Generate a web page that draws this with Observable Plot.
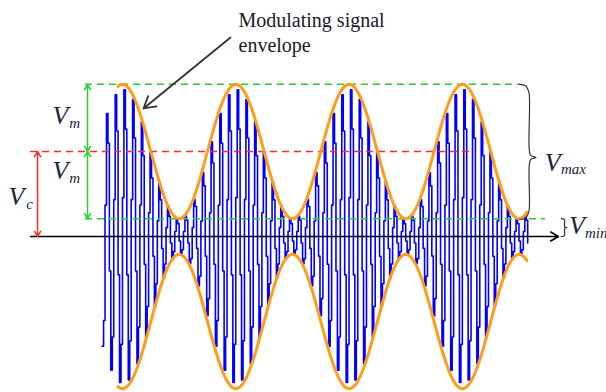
<!DOCTYPE html>
<html><head><meta charset="utf-8">
<script src="https://cdn.jsdelivr.net/npm/d3@7"></script>
<script src="https://cdn.jsdelivr.net/npm/@observablehq/plot@0.6"></script>
<style>body{margin:0;background:#fff;overflow:hidden}</style>
</head><body><div id="chart"></div>
<script>
// Signal parameters (units: Vc = 1, time in modulation periods)
const levels = [0, 0.21, 1, 1.79];            // axis, Vmin, Vc, Vmax
const Vc = 1, Vm = 0.79;
const carrierCyclesPerPeriod = 13;
const carrierSpan = [-0.18, 3.58];
const envelopeSpan = [-0.04, 3.57];
const samplesPerCycle = 6;

const xDomain = [-1.077, 4.272];
const yDomain = [-1.835, 2.776];
const serif = "'Liberation Serif', 'Times New Roman', Times, serif";

// carrier samples
const carrier = [];
const dt = 1 / (carrierCyclesPerPeriod * samplesPerCycle);
for (let t = carrierSpan[0]; t <= carrierSpan[1]; t += dt) {
  const env = Vc + Vm * Math.cos(2 * Math.PI * t);
  carrier.push({t, v: env * Math.sin(2 * Math.PI * carrierCyclesPerPeriod * t + 0.3)});
}
// envelope
const upper = [], lower = [];
for (let t = envelopeSpan[0]; t <= envelopeSpan[1] + 1e-9; t += 0.01) {
  const env = Vc + Vm * Math.cos(2 * Math.PI * t);
  upper.push({t, v: env});
  lower.push({t, v: -env});
}

// reference lines
const hlines = [
  {t1: -0.812, t2: 3.089, v: 1, c: "#ff2a2a"},
  {t1: -0.327, t2: 3.513, v: 1.79, c: "#2ecc2e"},
  {t1: -0.327, t2: 3.733, v: 0.21, c: "#2ecc2e"}
];
// double-headed dimension arrows (drawn from midpoint both ways)
const dims = [
  {t: -0.75, a: 0, b: 1, c: "#ff2a2a"},
  {t: -0.309, a: 1, b: 1.79, c: "#2ecc2e"},
  {t: -0.309, a: 0.21, b: 1, c: "#2ecc2e"}
];
const dimArrows = dims.flatMap(d => {
  const m = (d.a + d.b) / 2;
  return [{t1: d.t, v1: m, t2: d.t, v2: d.b, c: d.c}, {t1: d.t, v1: m, t2: d.t, v2: d.a, c: d.c}];
});

// braces
function brace(t0, w, vTop, vBot, vTip) {
  const h = (vTop - vBot);
  const r = 0.06 * h;
  const pts = [[t0, vTop], [t0 + w * 0.6, vTop - r * 0.15], [t0 + w * 0.85, vTop - r * 0.6], [t0 + w, vTop - r * 1.2],
           [t0 + w, vTip + r * 1.0], [t0 + w * 1.15, vTip + r * 0.25], [t0 + w * 1.7, vTip],
           [t0 + w * 1.15, vTip - r * 0.25], [t0 + w, vTip - r * 1.0],
           [t0 + w, vBot + r * 1.2], [t0 + w * 0.85, vBot + r * 0.6], [t0 + w * 0.6, vBot + r * 0.15], [t0, vBot]];
  return pts.map(([t, v]) => ({t, v}));
}
const braceMax = brace(3.505, 0.085, 1.79, 0.20, 0.93);
const braceMin = brace(3.872, 0.03, 0.21, 0.0, 0.105);

const labelsV = [
  {t: -0.618, v: 1.329, s: "V"},
  {t: -0.618, v: 0.682, s: "V"},
  {t: -1.006, v: 0.365, s: "V"},
  {t: 3.728, v: 0.776, s: "V"},
  {t: 3.940, v: 0.024, s: "V"}
];
const labelsSub = [
  {t: -0.470, v: 1.282, s: "m"},
  {t: -0.470, v: 0.635, s: "m"},
  {t: -0.850, v: 0.318, s: "c"},
  {t: 3.870, v: 0.741, s: "max"},
  {t: 4.082, v: -0.012, s: "min"}
];
const note = [
  {t: 1.024, v: 2.459, s: "Modulating signal"},
  {t: 1.024, v: 2.176, s: "envelope"}
];

const chart = Plot.plot({
  width: 606, height: 392, margin: 0,
  x: {domain: xDomain, axis: null},
  y: {domain: yDomain, axis: null},
  style: {background: "white", overflow: "hidden", fontFamily: serif},
  marks: [
    Plot.line(carrier, {x: "t", y: "v", curve: "step-after", stroke: "#0000ff", strokeWidth: 1.6}),
    Plot.ruleY(hlines, {x1: "t1", x2: "t2", y: "v", stroke: "c", strokeWidth: 1.5, strokeDasharray: "7,5"}),
    Plot.line(upper, {x: "t", y: "v", stroke: "#ff9d1a", strokeWidth: 3}),
    Plot.line(lower, {x: "t", y: "v", stroke: "#ff9d1a", strokeWidth: 3}),
    Plot.arrow([{t1: -0.812, t2: 3.848, v: 0}], {x1: "t1", x2: "t2", y1: "v", y2: "v", stroke: "black", strokeWidth: 1.5, headLength: 9}),
    Plot.arrow(dimArrows, {x1: "t1", y1: "v1", x2: "t2", y2: "v2", stroke: "c", strokeWidth: 1.5, headLength: 6}),
    Plot.line(braceMax, {x: "t", y: "v", curve: "catmull-rom", stroke: "#333", strokeWidth: 1.2}),
    Plot.line(braceMin, {x: "t", y: "v", curve: "catmull-rom", stroke: "#333", strokeWidth: 1.2}),
    Plot.arrow([{t1: 0.953, v1: 2.341, t2: 0.185, v2: 1.506}], {x1: "t1", y1: "v1", x2: "t2", y2: "v2", stroke: "#333", strokeWidth: 1.8, headLength: 11}),
    Plot.text(labelsV, {x: "t", y: "v", text: "s", textAnchor: "start", lineAnchor: "bottom", fontSize: 26, fontStyle: "italic", fontFamily: serif, fill: "#1c2540"}),
    Plot.text(labelsSub, {x: "t", y: "v", text: "s", textAnchor: "start", lineAnchor: "bottom", fontSize: 15, fontStyle: "italic", fontFamily: serif, fill: "#1c2540"}),
    Plot.text(note, {x: "t", y: "v", text: "s", textAnchor: "start", lineAnchor: "bottom", fontSize: 20, fontFamily: serif, fill: "#1a1a2a"})
  ]
});
document.getElementById("chart").appendChild(chart);
</script>
</body></html>
